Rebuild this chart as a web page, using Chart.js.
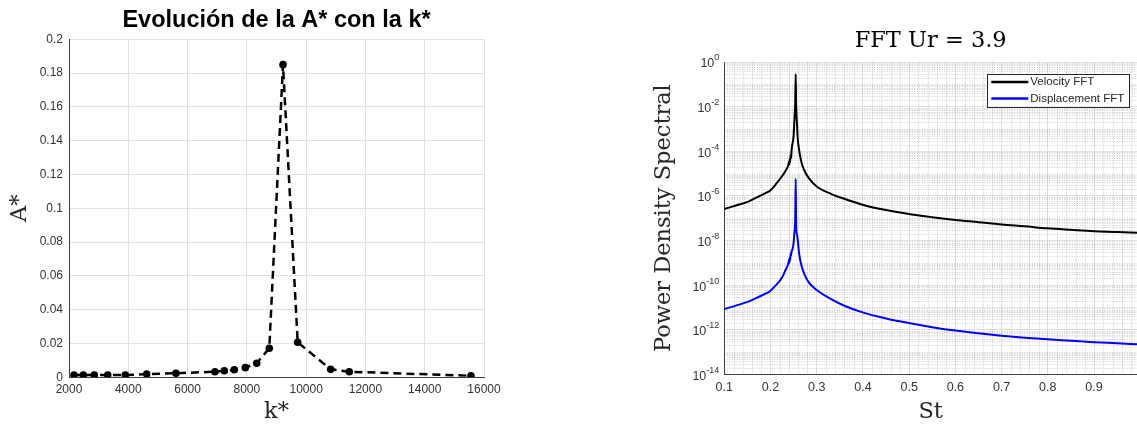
<!DOCTYPE html>
<html>
<head>
<meta charset="utf-8">
<script src="https://cdn.jsdelivr.net/npm/chart.js@4.4.1/dist/chart.umd.min.js"></script>
<style>
  html, body { margin: 0; padding: 0; background: #fff; }
  #wrap { position: relative; width: 1137px; height: 424px; overflow: hidden; }
  #left { position: absolute; left: 0; top: 0; width: 520px; height: 424px; }
  #right { position: absolute; left: 600px; top: 0; width: 537px; height: 424px; }
</style>
</head>
<body>
<div id="wrap">
  <div id="left"><canvas id="ampChart"></canvas></div>
  <div id="right"><canvas id="fftChart"></canvas></div>
</div>
<script>
// ---- Amplitude vs. stiffness sweep ----
const kStar = [2169, 2483, 2854, 3306, 3900, 4621, 5607, 6925, 7240, 7577, 7948, 8331, 8757, 9219, 9715, 10827, 11456, 15561];
const aStar = [0.0013, 0.0013, 0.0013, 0.0013, 0.0013, 0.0019, 0.0024, 0.0033, 0.0039, 0.0045, 0.0057, 0.0083, 0.0172, 0.1850, 0.0207, 0.0047, 0.0033, 0.0009];
const kTicks = [2000, 4000, 6000, 8000, 10000, 12000, 14000, 16000];
const aTicks = [0, 0.02, 0.04, 0.06, 0.08, 0.1, 0.12, 0.14, 0.16, 0.18, 0.2];
const aTickLabels = ['0', '0.02', '0.04', '0.06', '0.08', '0.1', '0.12', '0.14', '0.16', '0.18', '0.2'];

// ---- Spectra at Ur = 3.9 ----
const stValues = [0.100, 0.125, 0.152, 0.175, 0.190, 0.200, 0.212, 0.224, 0.232, 0.2385, 0.240, 0.241, 0.2415, 0.2425, 0.2435, 0.2445, 0.2455, 0.247, 0.250, 0.2515, 0.2535, 0.2545, 0.2555, 0.2575, 0.2589, 0.262, 0.2675, 0.273, 0.282, 0.300, 0.332, 0.361, 0.401, 0.450, 0.502, 0.550, 0.600, 0.650, 0.700, 0.750, 0.800, 0.850, 0.900, 0.950, 0.993];
const velocityPsd = [2.57e-7, 3.7e-7, 5.5e-7, 9.5e-7, 1.35e-6, 1.8e-6, 3.4e-6, 7.2e-6, 1.26e-5, 2.4e-5, 3.5e-5, 2.6e-5, 4.5e-5, 3.2e-5, 7.0e-5, 5.0e-5, 1.1e-4, 1.9e-4, 5.0e-4, 2.1e-3, 1.8e-2, 0.28, 1.1e-2, 1.4e-3, 3.8e-4, 1.1e-4, 2.9e-5, 1.4e-5, 6.6e-6, 2.6e-6, 1.2e-6, 7.2e-7, 3.9e-7, 2.3e-7, 1.5e-7, 1.1e-7, 8.3e-8, 6.6e-8, 5.2e-8, 4.3e-8, 3.5e-8, 3.0e-8, 2.6e-8, 2.4e-8, 2.2e-8];
const displacementPsd = [8.5e-12, 1.2e-11, 1.8e-11, 3.0e-11, 4.2e-11, 5.6e-11, 1.0e-10, 2.0e-10, 4.5e-10, 9.5e-10, 1.4e-9, 1.0e-9, 1.7e-9, 1.3e-9, 2.6e-9, 2.0e-9, 3.2e-9, 3.7e-9, 7.9e-9, 2.1e-8, 1.0e-7, 5.8e-6, 4.2e-8, 1.8e-8, 1.05e-8, 2.5e-9, 6.8e-10, 3.2e-10, 1.4e-10, 6.0e-11, 2.3e-11, 1.15e-11, 5.8e-12, 3.2e-12, 1.95e-12, 1.3e-12, 9.1e-13, 6.9e-13, 5.4e-13, 4.4e-13, 3.7e-13, 3.2e-13, 2.75e-13, 2.45e-13, 2.2e-13];
const stTicks = [0.1, 0.2, 0.3, 0.4, 0.5, 0.6, 0.7, 0.8, 0.9];
const stTickLabels = ['0.1', '0.2', '0.3', '0.4', '0.5', '0.6', '0.7', '0.8', '0.9'];
const psdTicks = [1, 1e-2, 1e-4, 1e-6, 1e-8, 1e-10, 1e-12, 1e-14];
const psdExponents = ['0', '-2', '-4', '-6', '-8', '-10', '-12', '-14'];
const seriesNames = ['Velocity FFT', 'Displacement FFT'];

const INK = '#262626';
const TICK_INK = '#333';
const GRID = '#e1e1e1';
const SANS = "'Liberation Sans', Arial, sans-serif";
const SERIF = "'DejaVu Serif', serif";

// minor grid positions for the spectrum axes
const stMinor = [];
for (let i = 6; i <= 49; i++) { if (i % 5 !== 0) stMinor.push(i * 0.02); }
const psdMinor = [];
for (let e = -14; e < 0; e++) {
  for (let m = 1; m <= 9; m++) {
    if (m === 1 && e % 2 === 0) continue;
    psdMinor.push(m * Math.pow(10, e));
  }
}

// dotted minor grid drawn through the chart's own scales
const minorGrid = {
  id: 'minorGrid',
  beforeDatasetsDraw(chart, args, opts) {
    if (!opts.enabled) return;
    const { ctx, chartArea: a, scales: { x, y } } = chart;
    ctx.save();
    ctx.beginPath();
    ctx.rect(a.left, a.top, a.right - a.left, a.bottom - a.top);
    ctx.clip();
    ctx.strokeStyle = opts.color;
    ctx.lineWidth = 1;
    ctx.setLineDash([1, 1.5]);
    ctx.beginPath();
    for (const v of opts.xValues) {
      const px = Math.round(x.getPixelForValue(v)) + 0.5;
      ctx.moveTo(px, a.top); ctx.lineTo(px, a.bottom);
    }
    for (const v of opts.yValues) {
      const py = Math.round(y.getPixelForValue(v)) + 0.5;
      ctx.moveTo(a.left, py); ctx.lineTo(a.right, py);
    }
    ctx.stroke();
    ctx.restore();
  }
};

// power-of-ten tick labels with raised exponents
const powerLabels = {
  id: 'powerLabels',
  afterDraw(chart, args, opts) {
    if (!opts.enabled) return;
    const { ctx, chartArea: a, scales: { y } } = chart;
    const xr = a.left - opts.gap;
    ctx.save();
    ctx.fillStyle = TICK_INK;
    ctx.textBaseline = 'middle';
    ctx.textAlign = 'left';
    opts.values.forEach((v, i) => {
      const py = y.getPixelForValue(v);
      const exp = opts.exponents[i];
      ctx.font = opts.expSize + 'px ' + SANS;
      const we = ctx.measureText(exp).width;
      ctx.fillText(exp, xr - we, py - 4);
      ctx.font = opts.baseSize + 'px ' + SANS;
      const wb = ctx.measureText('10').width;
      ctx.fillText('10', xr - we - wb, py + 2);
    });
    ctx.restore();
  }
};

// boxed legend in the upper right of the plot area
const boxLegend = {
  id: 'boxLegend',
  afterDatasetsDraw(chart, args, opts) {
    if (!opts.enabled) return;
    const { ctx, chartArea: a } = chart;
    const x0 = a.left + opts.left, y0 = a.top + opts.top;
    ctx.save();
    ctx.fillStyle = '#fff';
    ctx.fillRect(x0, y0, opts.width, opts.height);
    ctx.strokeStyle = INK;
    ctx.lineWidth = 1;
    ctx.strokeRect(Math.round(x0) + 0.5, Math.round(y0) + 0.5, opts.width, opts.height);
    ctx.font = opts.fontSize + 'px ' + SANS;
    ctx.textBaseline = 'middle';
    ctx.textAlign = 'left';
    chart.data.datasets.forEach((ds, i) => {
      const cy = y0 + opts.rowStart + i * opts.rowGap;
      ctx.strokeStyle = ds.borderColor;
      ctx.lineWidth = 2.5;
      ctx.beginPath();
      ctx.moveTo(x0 + 4, cy); ctx.lineTo(x0 + 4 + opts.sample, cy);
      ctx.stroke();
      ctx.fillStyle = INK;
      ctx.fillText(ds.label, x0 + 6 + opts.sample, cy);
    });
    ctx.restore();
  }
};

Chart.register(minorGrid, powerLabels, boxLegend);

function fixedTicks(values) {
  return (scale) => { scale.ticks = values.map(v => ({ value: v })); };
}

// ---------- left: A* vs k* ----------
new Chart(document.getElementById('ampChart'), {
  type: 'line',
  data: {
    datasets: [{
      data: kStar.map((k, i) => ({ x: k, y: aStar[i] })),
      borderColor: '#000',
      backgroundColor: '#000',
      borderWidth: 2.5,
      borderDash: [8, 5],
      pointRadius: 3.8,
      pointBorderWidth: 0,
      pointBackgroundColor: '#000',
      tension: 0
    }]
  },
  options: {
    responsive: true,
    maintainAspectRatio: false,
    animation: false,
    layout: { padding: { left: 0, right: 36, top: 0, bottom: 0 } },
    plugins: {
      legend: { display: false },
      tooltip: { enabled: false },
      title: {
        display: true,
        fullSize: false,
        text: 'Evolución de la A* con la k*',
        color: '#000',
        font: { family: SANS, size: 23.5, weight: 'bold', lineHeight: 1.2 },
        padding: { top: 6.9, bottom: 4.2 }
      },
      minorGrid: { enabled: false },
      powerLabels: { enabled: false },
      boxLegend: { enabled: false }
    },
    scales: {
      x: {
        type: 'linear',
        min: 2000, max: 16000,
        afterBuildTicks: fixedTicks(kTicks),
        afterFit: (s) => { s.height = 46.7; },
        ticks: {
          color: TICK_INK, padding: 5.5, maxRotation: 0,
          font: { family: SANS, size: 12 },
          callback: (v, i) => String(kTicks[i])
        },
        grid: { color: GRID, drawTicks: false },
        border: { color: '#404040', width: 1 },
        title: {
          display: true, text: 'k*', color: INK,
          font: { family: SERIF, size: 22.5, lineHeight: 1 },
          padding: { top: 0, bottom: 0.75 }
        }
      },
      y: {
        type: 'linear',
        min: 0, max: 0.2,
        afterBuildTicks: fixedTicks(aTicks),
        afterFit: (s) => { s.width = 69; },
        ticks: {
          color: TICK_INK, padding: 6,
          font: { family: SANS, size: 12 },
          callback: (v, i) => aTickLabels[i]
        },
        grid: { color: GRID, drawTicks: false },
        border: { color: '#404040', width: 1 },
        title: {
          display: true, text: 'A*', color: INK,
          font: { family: SERIF, size: 22.5, lineHeight: 1 },
          padding: { top: 8.5, bottom: 0 }
        }
      }
    }
  }
});

// ---------- right: spectra ----------
new Chart(document.getElementById('fftChart'), {
  type: 'line',
  data: {
    datasets: [
      {
        label: seriesNames[0],
        data: stValues.map((s, i) => ({ x: s, y: velocityPsd[i] })),
        borderColor: '#000000',
        borderWidth: 2,
        pointRadius: 0,
        cubicInterpolationMode: 'monotone'
      },
      {
        label: seriesNames[1],
        data: stValues.map((s, i) => ({ x: s, y: displacementPsd[i] })),
        borderColor: '#0000ff',
        borderWidth: 2,
        pointRadius: 0,
        cubicInterpolationMode: 'monotone'
      }
    ]
  },
  options: {
    responsive: true,
    maintainAspectRatio: false,
    animation: false,
    layout: { padding: { left: 0, right: 0, top: 0, bottom: 0 } },
    plugins: {
      legend: { display: false },
      tooltip: { enabled: false },
      title: {
        display: true,
        fullSize: false,
        text: 'FFT Ur = 3.9',
        color: '#000',
        font: { family: SERIF, size: 22.5, weight: 'normal', lineHeight: 1.2 },
        padding: { top: 28, bottom: 7 }
      },
      minorGrid: { enabled: true, color: 'rgba(38,38,38,0.22)', xValues: stMinor, yValues: psdMinor },
      powerLabels: { enabled: true, values: psdTicks, exponents: psdExponents, gap: 5, baseSize: 12.5, expSize: 9 },
      boxLegend: { enabled: true, left: 263, top: 11.5, width: 142, height: 33, sample: 37, rowStart: 8.5, rowGap: 16.5, fontSize: 11.5 }
    },
    scales: {
      x: {
        type: 'linear',
        min: 0.1, max: 0.993,
        afterBuildTicks: fixedTicks(stTicks),
        afterFit: (s) => { s.height = 49.7; },
        ticks: {
          color: TICK_INK, padding: 6, maxRotation: 0,
          font: { family: SANS, size: 12.5 },
          callback: (v, i) => stTickLabels[i]
        },
        grid: { color: GRID, drawTicks: false },
        border: { color: '#404040', width: 1 },
        title: {
          display: true, text: 'St', color: INK,
          font: { family: SERIF, size: 22.5, lineHeight: 1 },
          padding: { top: 0, bottom: 0.75 }
        }
      },
      y: {
        type: 'logarithmic',
        min: 1e-14, max: 1,
        afterBuildTicks: fixedTicks(psdTicks),
        afterFit: (s) => { s.width = 124.3; },
        ticks: { display: false },
        grid: { color: GRID, drawTicks: false },
        border: { color: '#404040', width: 1 },
        title: {
          display: true, text: 'Power Density Spectral', color: INK,
          font: { family: SERIF, size: 22.5, lineHeight: 1 },
          padding: { top: 52.75, bottom: 0 }
        }
      }
    }
  }
});
</script>
</body>
</html>
